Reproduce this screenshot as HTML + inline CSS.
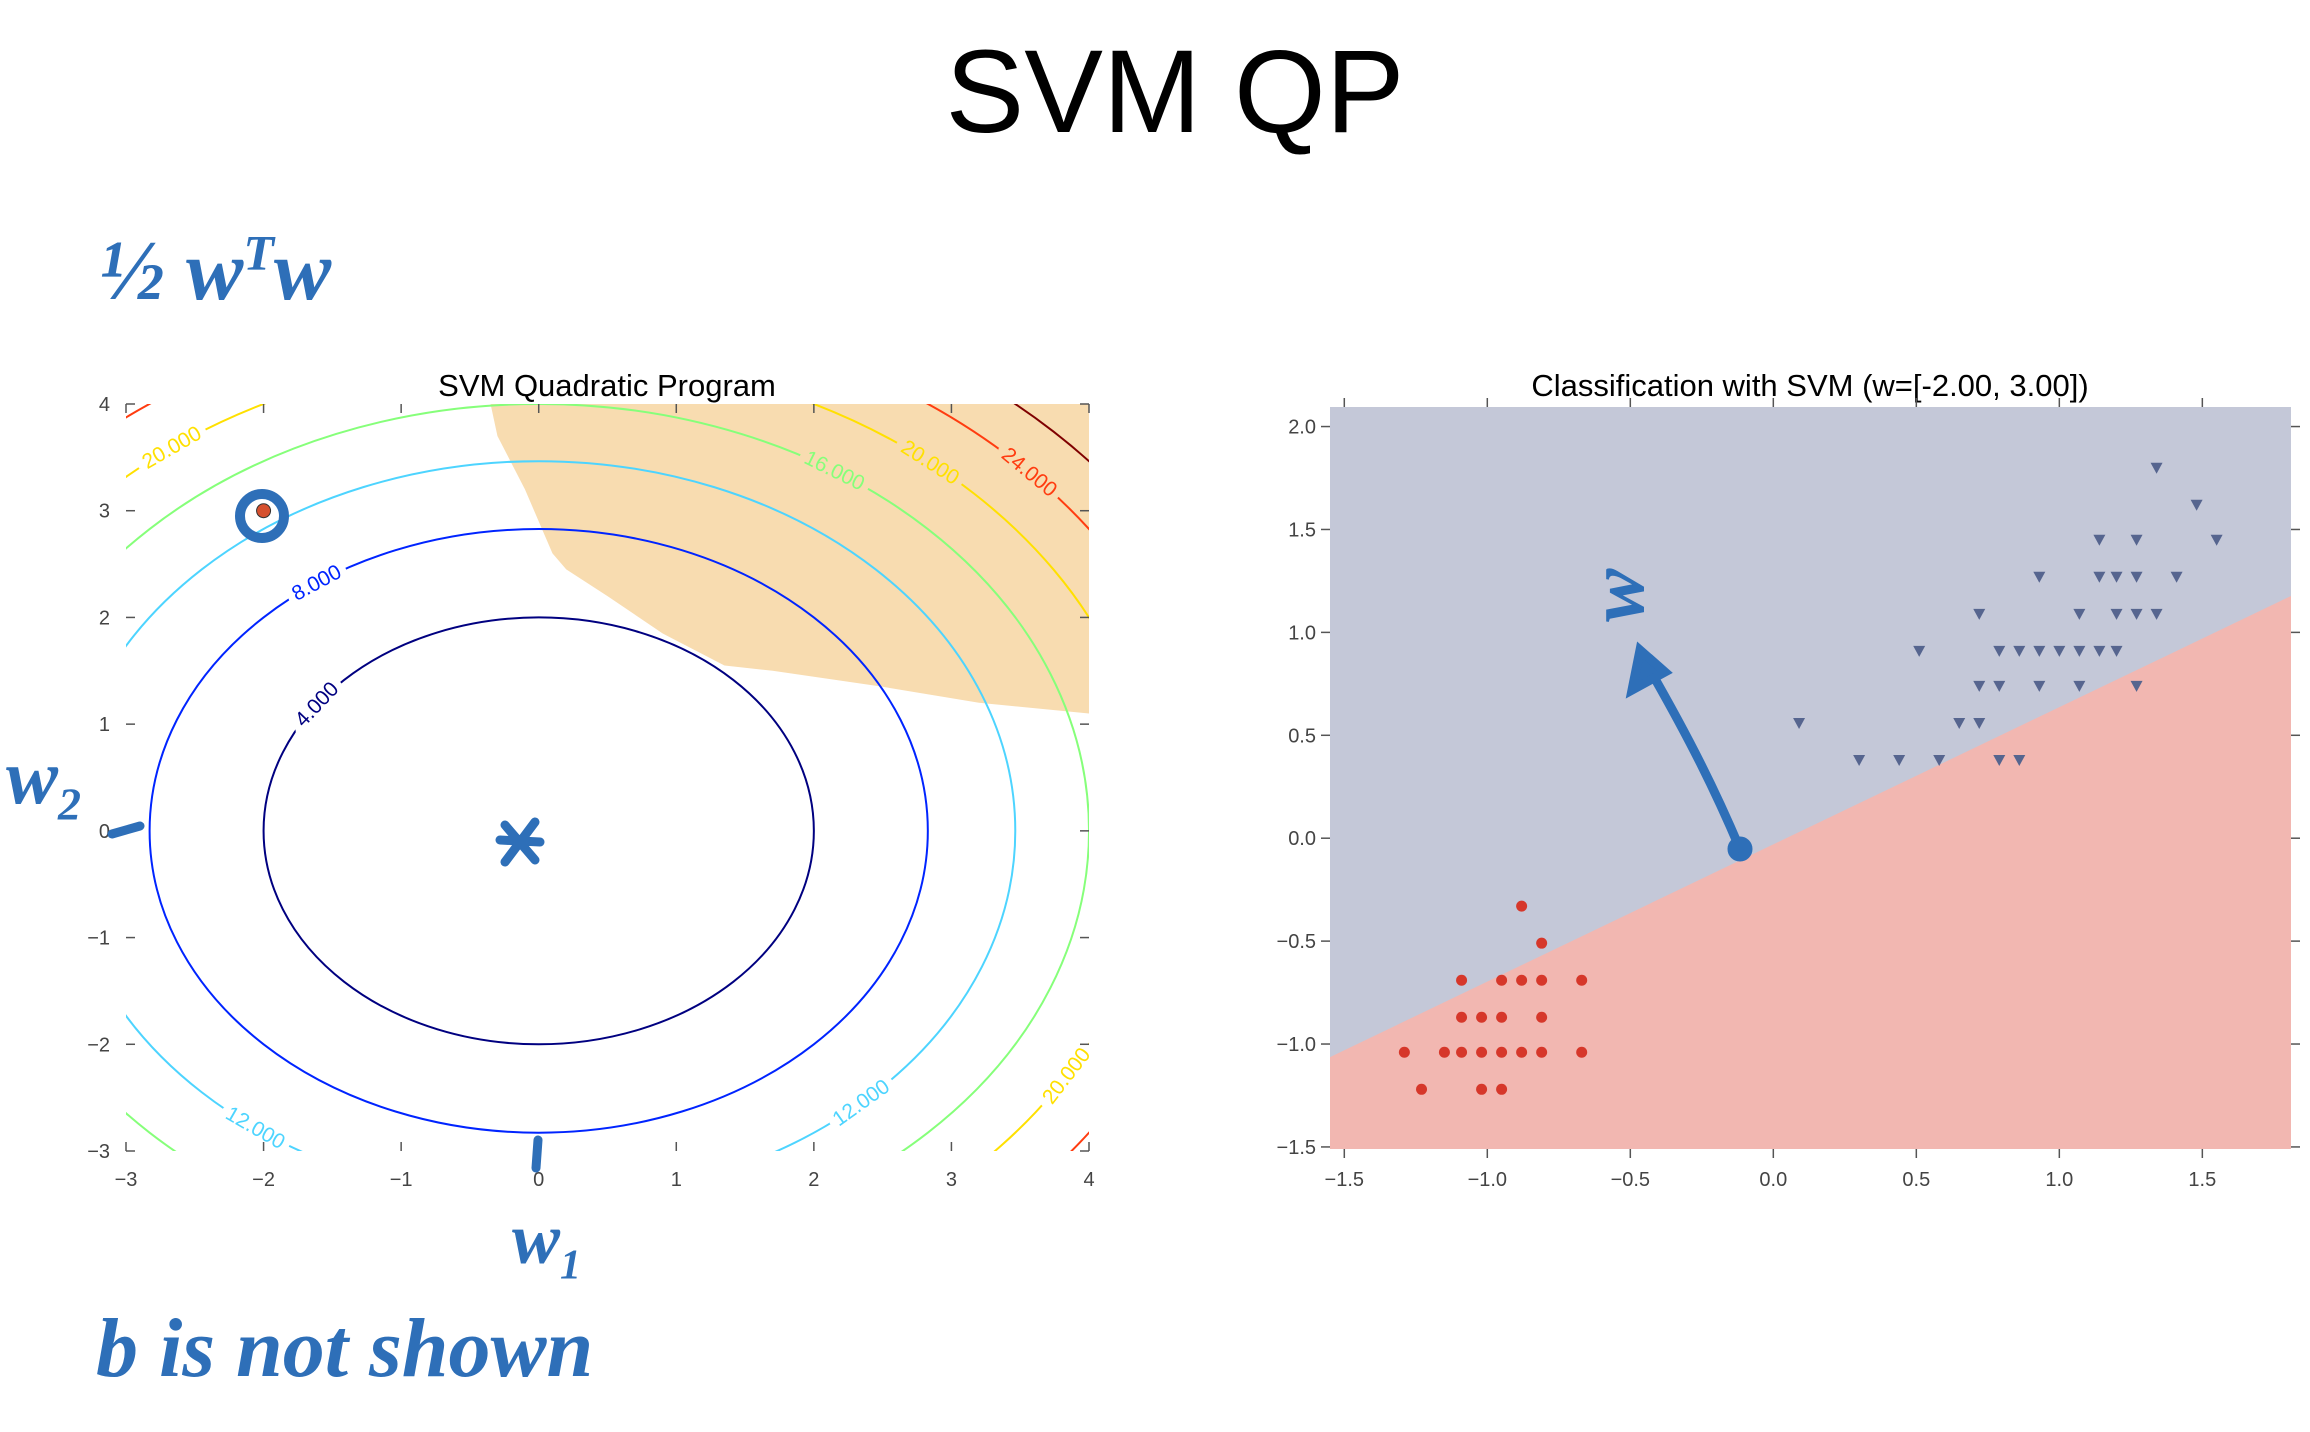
<!DOCTYPE html>
<html><head><meta charset="utf-8"><style>
body{margin:0;background:#fff;width:2310px;height:1432px;overflow:hidden;font-family:"Liberation Sans",sans-serif}
.hand{position:absolute;color:#2e6fb8;font-family:"Liberation Serif",serif;font-style:italic;font-weight:bold}
</style></head><body>
<div style="position:absolute;left:0;width:2350px;top:24px;text-align:center;font-size:118px;">SVM QP</div>
<svg id="chart" width="2310" height="1432" style="position:absolute;left:0;top:0">
<defs>
<clipPath id="clipL"><rect x="126" y="404" width="963" height="747"/></clipPath>
</defs>
<g id="left"></g>
<g id="right"></g>
<g id="ann" stroke="#2e6fb8" fill="none" stroke-linecap="round" stroke-width="9"></g>
</svg>
<div class="hand" style="left:100px;top:220px;font-size:86px">½ w<sup style="font-size:50px">T</sup>w</div>
<div class="hand" style="left:6px;top:732px;font-size:78px">w<sub style="font-size:46px">2</sub></div>
<div class="hand" style="left:512px;top:1198px;font-size:72px">w<sub style="font-size:42px">1</sub></div>
<div class="hand" style="left:96px;top:1300px;font-size:84px">b is not shown</div>
<div class="hand" style="left:1572px;top:622px;font-size:80px;transform:rotate(-90deg);transform-origin:0 0">w⃗</div>
<script>
const NS="http://www.w3.org/2000/svg";
// ---- Left chart data ----
const levels=[4,8,12,16,20,24,28];
const levelColors=["#000080","#0024ff","#4dd4ff","#86ff7a","#ffe000","#ff3c10","#7f0000"];
const xTicksL=[-3,-2,-1,0,1,2,3,4];
const yTicksL=[-3,-2,-1,0,1,2,3,4];
const labelLevels=[20,16,20,24,8,4,12,12,20];
const labelAngles=[126.6,57.5,50.5,43.3,124.8,143.7,233.5,-47.4,-30.9];
const feasibleX=[-0.35,-0.3,-0.1,0.1,0.2,0.5,0.9,1.35,1.7,2.5,3.2,4,4];
const feasibleY=[4,3.7,3.2,2.6,2.45,2.2,1.85,1.55,1.5,1.35,1.2,1.1,4];
const optimum=[-2,3];
// ---- Right chart data ----
const wVec=[-2,3]; const bias=0.09;
const redX=[-0.88,-0.81,-1.09,-0.95,-0.88,-0.81,-0.67,-1.09,-1.02,-0.95,-0.81,-1.29,-1.15,-1.09,-1.02,-0.95,-0.88,-0.81,-0.67,-1.23,-1.02,-0.95];
const redY=[-0.33,-0.51,-0.69,-0.69,-0.69,-0.69,-0.69,-0.87,-0.87,-0.87,-0.87,-1.04,-1.04,-1.04,-1.04,-1.04,-1.04,-1.04,-1.04,-1.22,-1.22,-1.22];
const blueX=[1.34,1.48,1.14,1.27,1.55,0.93,1.14,1.20,1.27,1.41,0.72,1.07,1.20,1.27,1.34,0.51,0.79,0.86,0.93,1.00,1.07,1.14,1.20,0.72,0.79,0.93,1.07,1.27,0.09,0.65,0.72,0.30,0.44,0.58,0.79,0.86];
const blueY=[1.80,1.62,1.45,1.45,1.45,1.27,1.27,1.27,1.27,1.27,1.09,1.09,1.09,1.09,1.09,0.91,0.91,0.91,0.91,0.91,0.91,0.91,0.91,0.74,0.74,0.74,0.74,0.74,0.56,0.56,0.56,0.38,0.38,0.38,0.38,0.38];
const xTicksR=[-1.5,-1.0,-0.5,0.0,0.5,1.0,1.5];
const yTicksR=[-1.5,-1.0,-0.5,0.0,0.5,1.0,1.5,2.0];

function mk(tag,attrs,parent){const e=document.createElementNS(NS,tag);for(const k in attrs)e.setAttribute(k,attrs[k]);parent.appendChild(e);return e;}
function fmt(v,d){return (v<0?"\u2212":"")+Math.abs(v).toFixed(d);}

// Left scales
const L={x0:126,x1:1089,y0:1151,y1:404,xmin:-3,xmax:4,ymin:-3,ymax:4};
const sxL=v=>L.x0+(v-L.xmin)/(L.xmax-L.xmin)*(L.x1-L.x0);
const syL=v=>L.y0-(v-L.ymin)/(L.ymax-L.ymin)*(L.y0-L.y1);
const gl=document.getElementById('left');
const t1=mk('text',{x:607,y:396,'font-size':31,'text-anchor':'middle',fill:'#000'},gl);t1.textContent="SVM Quadratic Program";


const clipG=mk('g',{'clip-path':'url(#clipL)'},gl);
let pts=feasibleX.map((x,i)=>sxL(x)+","+syL(feasibleY[i])).join(" ");
const fr=mk('polygon',{points:pts,fill:'#f8dcb0'},clipG);


levels.forEach((lv,i)=>{const r=Math.sqrt(lv);
 const e=mk('ellipse',{cx:sxL(0),cy:syL(0),rx:r*(sxL(1)-sxL(0)),ry:r*(syL(0)-syL(1)),fill:'none',stroke:levelColors[i],'stroke-width':2},clipG);
 
 });
labelLevels.forEach((lv,i)=>{const r=Math.sqrt(lv),th=labelAngles[i]*Math.PI/180;
 const x=r*Math.cos(th),y=r*Math.sin(th);
 const rx=sxL(1)-sxL(0),ry=syL(0)-syL(1);
 let ang=Math.atan2(-ry*Math.cos(th),-rx*Math.sin(th))*180/Math.PI;
 if(ang>90)ang-=180;if(ang<-90)ang+=180;
 const inF=(x>0.3&&y>1.6);
 const t=mk('text',{x:sxL(x),y:syL(y),'font-size':21,'text-anchor':'middle','dominant-baseline':'central',fill:levelColors[levels.indexOf(lv)],stroke:inF?'#f8dcb0':'#fff','stroke-width':14,'paint-order':'stroke',transform:`rotate(${ang} ${sxL(x)} ${syL(y)})`},clipG);
 t.textContent=lv.toFixed(3);
 
 });
xTicksL.forEach(v=>{const x=sxL(v);
 mk('line',{x1:x,x2:x,y1:L.y0,y2:L.y0-9,stroke:'#555','stroke-width':1.5},gl);
 mk('line',{x1:x,x2:x,y1:L.y1,y2:L.y1+9,stroke:'#555','stroke-width':1.5},gl);
 const t=mk('text',{x:x,y:1186,'font-size':20,'text-anchor':'middle',fill:'#444'},gl);t.textContent=fmt(v,0);
 
 });
yTicksL.forEach(v=>{const y=syL(v);
 mk('line',{x1:L.x0,x2:L.x0+9,y1:y,y2:y,stroke:'#555','stroke-width':1.5},gl);
 mk('line',{x1:L.x1,x2:L.x1-9,y1:y,y2:y,stroke:'#555','stroke-width':1.5},gl);
 const t=mk('text',{x:110,y:y+7,'font-size':20,'text-anchor':'end',fill:'#444'},gl);t.textContent=fmt(v,0);
 
 });
const op=mk('circle',{cx:sxL(optimum[0]),cy:syL(optimum[1]),r:7,fill:'#d6502e',stroke:'#333','stroke-width':1},gl);



// Right scales
const R={x0:1330,x1:2291,y0:1149,y1:407,xmin:-1.55,xmax:1.81,ymin:-1.51,ymax:2.095};
const sxR=v=>R.x0+(v-R.xmin)/(R.xmax-R.xmin)*(R.x1-R.x0);
const syR=v=>R.y0-(v-R.ymin)/(R.ymax-R.ymin)*(R.y0-R.y1);
const gr=document.getElementById('right');
const t2=mk('text',{x:1810,y:396,'font-size':31,'text-anchor':'middle',fill:'#000'},gr);t2.textContent="Classification with SVM (w=[-2.00, 3.00])";


const bg=mk('rect',{x:R.x0,y:R.y1,width:R.x1-R.x0,height:R.y0-R.y1,fill:'#c4c8d8'},gr);


const by=x=>(-wVec[0]*x-bias)/wVec[1];
const rp=mk('polygon',{points:`${R.x0},${syR(by(R.xmin))} ${R.x1},${syR(by(R.xmax))} ${R.x1},${R.y0} ${R.x0},${R.y0}`,fill:'#f2b7b1'},gr);


redX.forEach((x,i)=>{const c=mk('circle',{cx:sxR(x),cy:syR(redY[i]),r:5.5,fill:'#d6372a'},gr);
 
 });
blueX.forEach((x,i)=>{const cx=sxR(x),cy=syR(blueY[i]);
 const p=mk('polygon',{points:`${cx-6},${cy-5} ${cx+6},${cy-5} ${cx},${cy+6}`,fill:'#56658f'},gr);
 
 });
xTicksR.forEach(v=>{const x=sxR(v);
 mk('line',{x1:x,x2:x,y1:R.y0,y2:R.y0+9,stroke:'#555','stroke-width':1.5},gr);
 mk('line',{x1:x,x2:x,y1:R.y1,y2:R.y1-9,stroke:'#555','stroke-width':1.5},gr);
 const t=mk('text',{x:x,y:1186,'font-size':20,'text-anchor':'middle',fill:'#444'},gr);t.textContent=fmt(v,1);
 
 });
yTicksR.forEach(v=>{const y=syR(v);
 mk('line',{x1:R.x0,x2:R.x0-9,y1:y,y2:y,stroke:'#555','stroke-width':1.5},gr);
 mk('line',{x1:R.x1,x2:R.x1+9,y1:y,y2:y,stroke:'#555','stroke-width':1.5},gr);
 const t=mk('text',{x:1316,y:y+7,'font-size':20,'text-anchor':'end',fill:'#444'},gr);t.textContent=fmt(v,1);
 
 });

// annotations strokes
const an=document.getElementById('ann');
mk('circle',{cx:262,cy:516,r:22,'stroke-width':10},an);
mk('path',{d:'M1740 849 C1715 790 1690 740 1650 670'},an);
mk('path',{d:'M1632 690 L1640 650 L1665 672 Z',fill:'#2e6fb8'},an);
mk('circle',{cx:1740,cy:849,r:8,fill:'#2e6fb8'},an);
mk('path',{d:'M505 825 L535 860 M535 822 L505 862 M500 840 L540 842'},an);
mk('path',{d:'M112 834 L140 826'},an);
mk('path',{d:'M538 1140 L536 1168'},an);
</script>
</body></html>
